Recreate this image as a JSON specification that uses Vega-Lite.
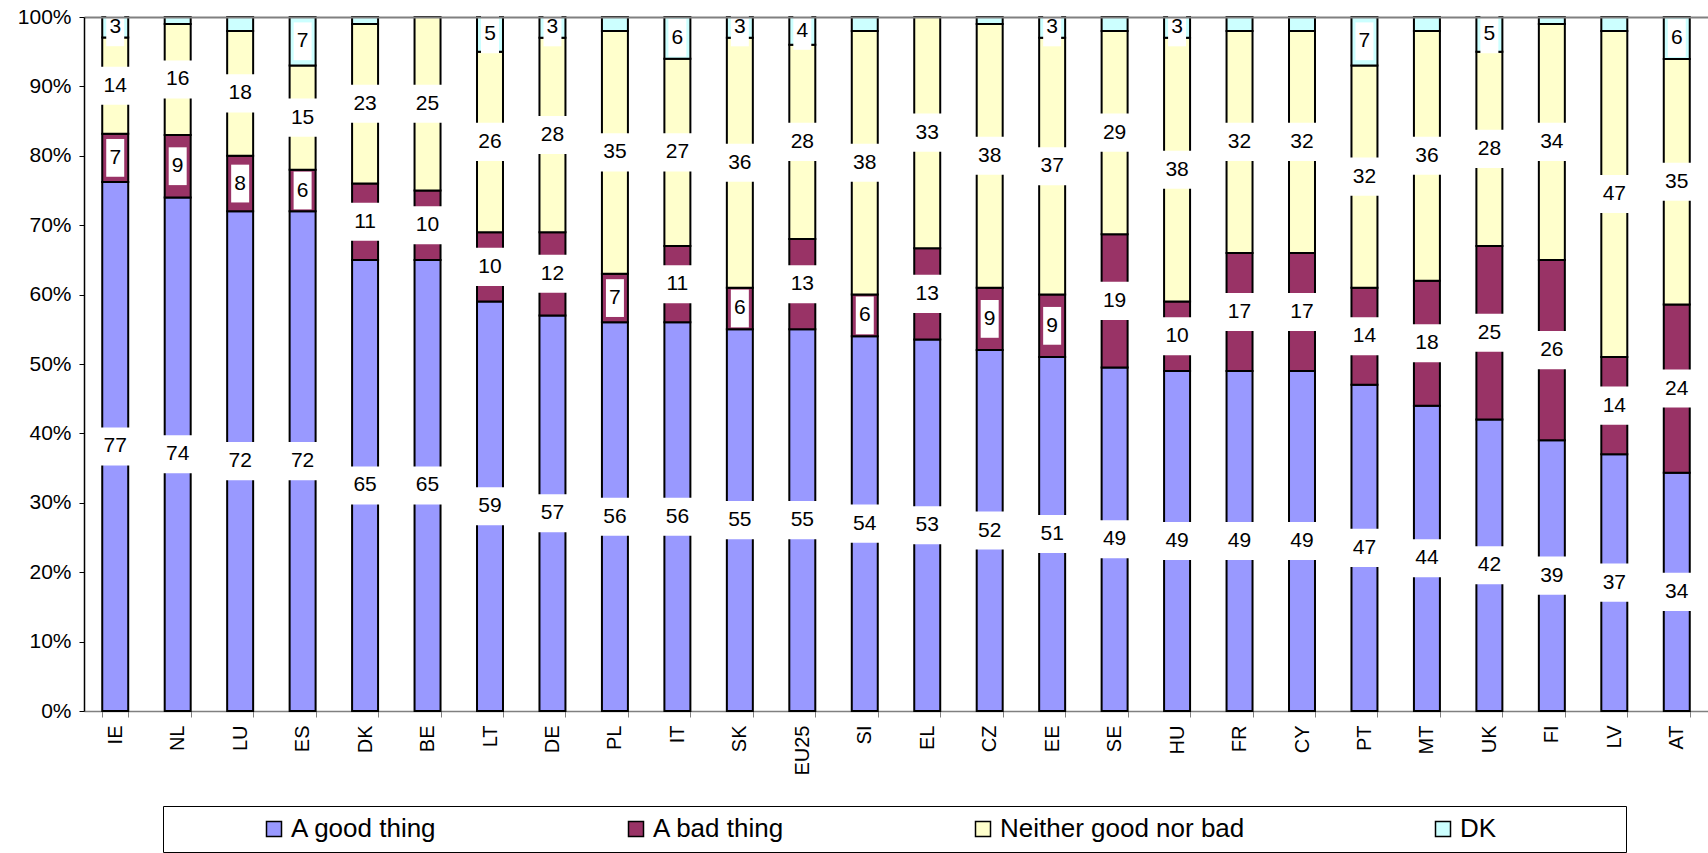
{
  "$schema": "https://vega.github.io/schema/vega-lite/v6.json",
  "width": 1624,
  "height": 694,
  "autosize": {"type": "none"},
  "padding": {"left": 84, "top": 17, "right": 0, "bottom": 142},
  "config": {
    "font": "Liberation Sans",
    "view": {"stroke": null},
    "legend": {
      "orient": "none",
      "legendX": 79,
      "legendY": 789,
      "direction": "horizontal",
      "columns": 4,
      "columnPadding": 97,
      "gridAlign": "each",
      "padding": 10,
      "symbolOffset": 88,
      "strokeColor": "black",
      "strokeWidth": 1,
      "labelFontSize": 26,
      "labelColor": "black",
      "labelOffset": 4,
      "labelLimit": 400,
      "symbolType": "square",
      "symbolSize": 225,
      "symbolStrokeColor": "black",
      "symbolStrokeWidth": 1.5,
      "symbolOpacity": 1,
      "titleOrient": "right",
      "titlePadding": 120,
      "titleFontSize": 26
    }
  },
  "data": {
    "values": [
      {"c": "IE", "A good thing": 77, "A bad thing": 7, "Neither good nor bad": 14, "DK": 3},
      {"c": "NL", "A good thing": 74, "A bad thing": 9, "Neither good nor bad": 16, "DK": 1},
      {"c": "LU", "A good thing": 72, "A bad thing": 8, "Neither good nor bad": 18, "DK": 2},
      {"c": "ES", "A good thing": 72, "A bad thing": 6, "Neither good nor bad": 15, "DK": 7},
      {"c": "DK", "A good thing": 65, "A bad thing": 11, "Neither good nor bad": 23, "DK": 1},
      {"c": "BE", "A good thing": 65, "A bad thing": 10, "Neither good nor bad": 25, "DK": 0},
      {"c": "LT", "A good thing": 59, "A bad thing": 10, "Neither good nor bad": 26, "DK": 5},
      {"c": "DE", "A good thing": 57, "A bad thing": 12, "Neither good nor bad": 28, "DK": 3},
      {"c": "PL", "A good thing": 56, "A bad thing": 7, "Neither good nor bad": 35, "DK": 2},
      {"c": "IT", "A good thing": 56, "A bad thing": 11, "Neither good nor bad": 27, "DK": 6},
      {"c": "SK", "A good thing": 55, "A bad thing": 6, "Neither good nor bad": 36, "DK": 3},
      {"c": "EU25", "A good thing": 55, "A bad thing": 13, "Neither good nor bad": 28, "DK": 4},
      {"c": "SI", "A good thing": 54, "A bad thing": 6, "Neither good nor bad": 38, "DK": 2},
      {"c": "EL", "A good thing": 53, "A bad thing": 13, "Neither good nor bad": 33, "DK": 0},
      {"c": "CZ", "A good thing": 52, "A bad thing": 9, "Neither good nor bad": 38, "DK": 1},
      {"c": "EE", "A good thing": 51, "A bad thing": 9, "Neither good nor bad": 37, "DK": 3},
      {"c": "SE", "A good thing": 49, "A bad thing": 19, "Neither good nor bad": 29, "DK": 2},
      {"c": "HU", "A good thing": 49, "A bad thing": 10, "Neither good nor bad": 38, "DK": 3},
      {"c": "FR", "A good thing": 49, "A bad thing": 17, "Neither good nor bad": 32, "DK": 2},
      {"c": "CY", "A good thing": 49, "A bad thing": 17, "Neither good nor bad": 32, "DK": 2},
      {"c": "PT", "A good thing": 47, "A bad thing": 14, "Neither good nor bad": 32, "DK": 7},
      {"c": "MT", "A good thing": 44, "A bad thing": 18, "Neither good nor bad": 36, "DK": 2},
      {"c": "UK", "A good thing": 42, "A bad thing": 25, "Neither good nor bad": 28, "DK": 5},
      {"c": "FI", "A good thing": 39, "A bad thing": 26, "Neither good nor bad": 34, "DK": 1},
      {"c": "LV", "A good thing": 37, "A bad thing": 14, "Neither good nor bad": 47, "DK": 2},
      {"c": "AT", "A good thing": 34, "A bad thing": 24, "Neither good nor bad": 35, "DK": 6}
    ]
  },
  "transform": [
    {"fold": ["A good thing", "A bad thing", "Neither good nor bad", "DK"], "as": ["cat", "v"]},
    {"calculate": "indexof(['A good thing','A bad thing','Neither good nor bad','DK'], datum.cat)", "as": "o"},
    {"stack": "v", "groupby": ["c"], "sort": [{"field": "o", "order": "ascending"}], "offset": "normalize", "as": ["y0", "y1"]},
    {"calculate": "(datum.y0 + datum.y1) / 2", "as": "ym"}
  ],
  "encoding": {
    "x": {
      "field": "c",
      "type": "nominal",
      "sort": null,
      "scale": {"paddingInner": 0.584, "paddingOuter": 0.292},
      "axis": {
        "title": null,
        "labelAngle": -90,
        "labelFontSize": 20,
        "labelColor": "black",
        "labelPadding": 8,
        "tickBand": "extent",
        "tickSize": 6,
        "tickColor": "#808080",
        "domainColor": "#808080",
        "domainWidth": 1.5
      }
    }
  },
  "layer": [
    {
      "mark": {"type": "bar", "stroke": "black", "strokeWidth": 2},
      "encoding": {
        "y": {
          "field": "y0",
          "type": "quantitative",
          "scale": {"domain": [0, 1]},
          "axis": {
            "title": null,
            "values": [0, 0.1, 0.2, 0.3, 0.4, 0.5, 0.6, 0.7, 0.8, 0.9, 1],
            "format": ".0%",
            "labelFontSize": 21,
            "labelColor": "black",
            "labelPadding": 8,
            "tickSize": 5,
            "tickColor": "black",
            "domainColor": "black",
            "domainWidth": 1.5,
            "grid": true,
            "gridColor": "#808080",
            "gridWidth": 2,
            "gridOpacity": {"condition": {"test": "datum.value >= 1", "value": 1}, "value": 0},
            "zindex": 1
          }
        },
        "y2": {"field": "y1"},
        "color": {
          "field": "cat",
          "type": "nominal",
          "scale": {
            "domain": ["A good thing", "A bad thing", "Neither good nor bad", "DK"],
            "range": ["#9999FF", "#993366", "#FFFFCC", "#CCFFFF"]
          },
          "legend": {"title": "\u00a0"}
        }
      }
    },
    {
      "transform": [{"filter": "datum.v >= 3 && datum.v < 10"}],
      "mark": {
        "type": "point",
        "shape": "M-1,-2.1L1,-2.1L1,2.1L-1,2.1Z",
        "filled": true,
        "color": "white",
        "opacity": 1,
        "strokeWidth": 0,
        "size": 324
      },
      "encoding": {"y": {"field": "ym", "type": "quantitative"}}
    },
    {
      "transform": [{"filter": "datum.v >= 10"}],
      "mark": {
        "type": "point",
        "shape": "M-1,-1.27L1,-1.27L1,1.27L-1,1.27Z",
        "filled": true,
        "color": "white",
        "opacity": 1,
        "strokeWidth": 0,
        "size": 900
      },
      "encoding": {"y": {"field": "ym", "type": "quantitative"}}
    },
    {
      "transform": [{"filter": "datum.v >= 3"}],
      "mark": {"type": "text", "fontSize": 21, "color": "black", "align": "center", "baseline": "middle"},
      "encoding": {
        "y": {"field": "ym", "type": "quantitative"},
        "text": {"field": "v", "type": "quantitative"}
      }
    }
  ]
}
